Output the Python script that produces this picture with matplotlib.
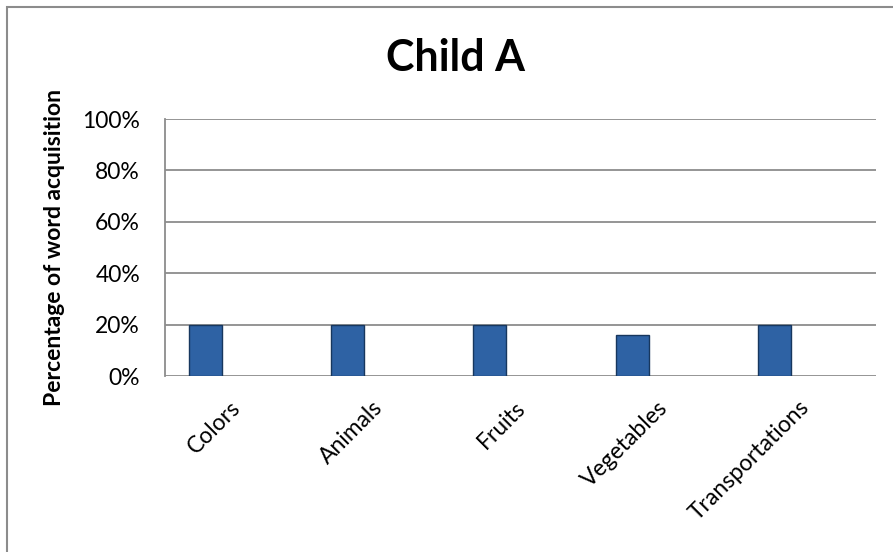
import matplotlib.pyplot as plt
import matplotlib.transforms as mtransforms
from matplotlib.patches import Rectangle
from matplotlib.ticker import PercentFormatter

plt.rcParams['font.family'] = ['Lato', 'DejaVu Sans']

categories = ['Colors', 'Animals', 'Fruits', 'Vegetables', 'Transportations']
values = [20, 20, 20, 16, 20]

fig = plt.figure(figsize=(8.93, 5.52), dpi=100)
ax = fig.add_axes([0.1848, 0.3188, 0.7962, 0.4656])

# outer chart border (bottom/right run off the image)
fig.patches.append(Rectangle((0.0075, -0.05), 1.1, 1.037, transform=fig.transFigure,
                             fill=False, edgecolor='#8c8c8c', linewidth=1.5))

x = list(range(len(categories)))
bar_x = [i - 0.215 for i in x]  # bars sit left of the category centre
ax.bar(bar_x, values, width=0.232, color='#2E62A4', edgecolor='#17375E', linewidth=1.0, zorder=3)

ax.set_xlim(-0.5, len(categories) - 0.5)
ax.set_ylim(0, 100)
ax.set_yticks(range(0, 101, 20))
ax.yaxis.set_major_formatter(PercentFormatter(decimals=0))
ax.grid(axis='y', color='#8c8c8c', linewidth=1.3, zorder=0)
for s in ['top', 'right', 'bottom']:
    ax.spines[s].set_visible(False)
ax.spines['left'].set_color('#8c8c8c')
ax.spines['left'].set_linewidth(1.3)
ax.tick_params(length=0, labelsize=16.5)
ax.tick_params(axis='y', pad=18)

ax.set_xticks(x)
ax.set_xticklabels(categories, rotation=45, ha='right', va='top', rotation_mode='anchor')
ax.tick_params(axis='x', pad=15)
offset = mtransforms.ScaledTranslation(-6 / 100, 0, fig.dpi_scale_trans)
for lbl in ax.get_xticklabels():
    lbl.set_transform(lbl.get_transform() + offset)

ax.set_ylabel('Percentage of word acquisition', fontsize=16.5, fontweight='bold', labelpad=12)
fig.text(0.51, 0.895, 'Child A', ha='center', va='center', fontsize=31, fontweight='bold')

fig.savefig('out.png', dpi=100)
